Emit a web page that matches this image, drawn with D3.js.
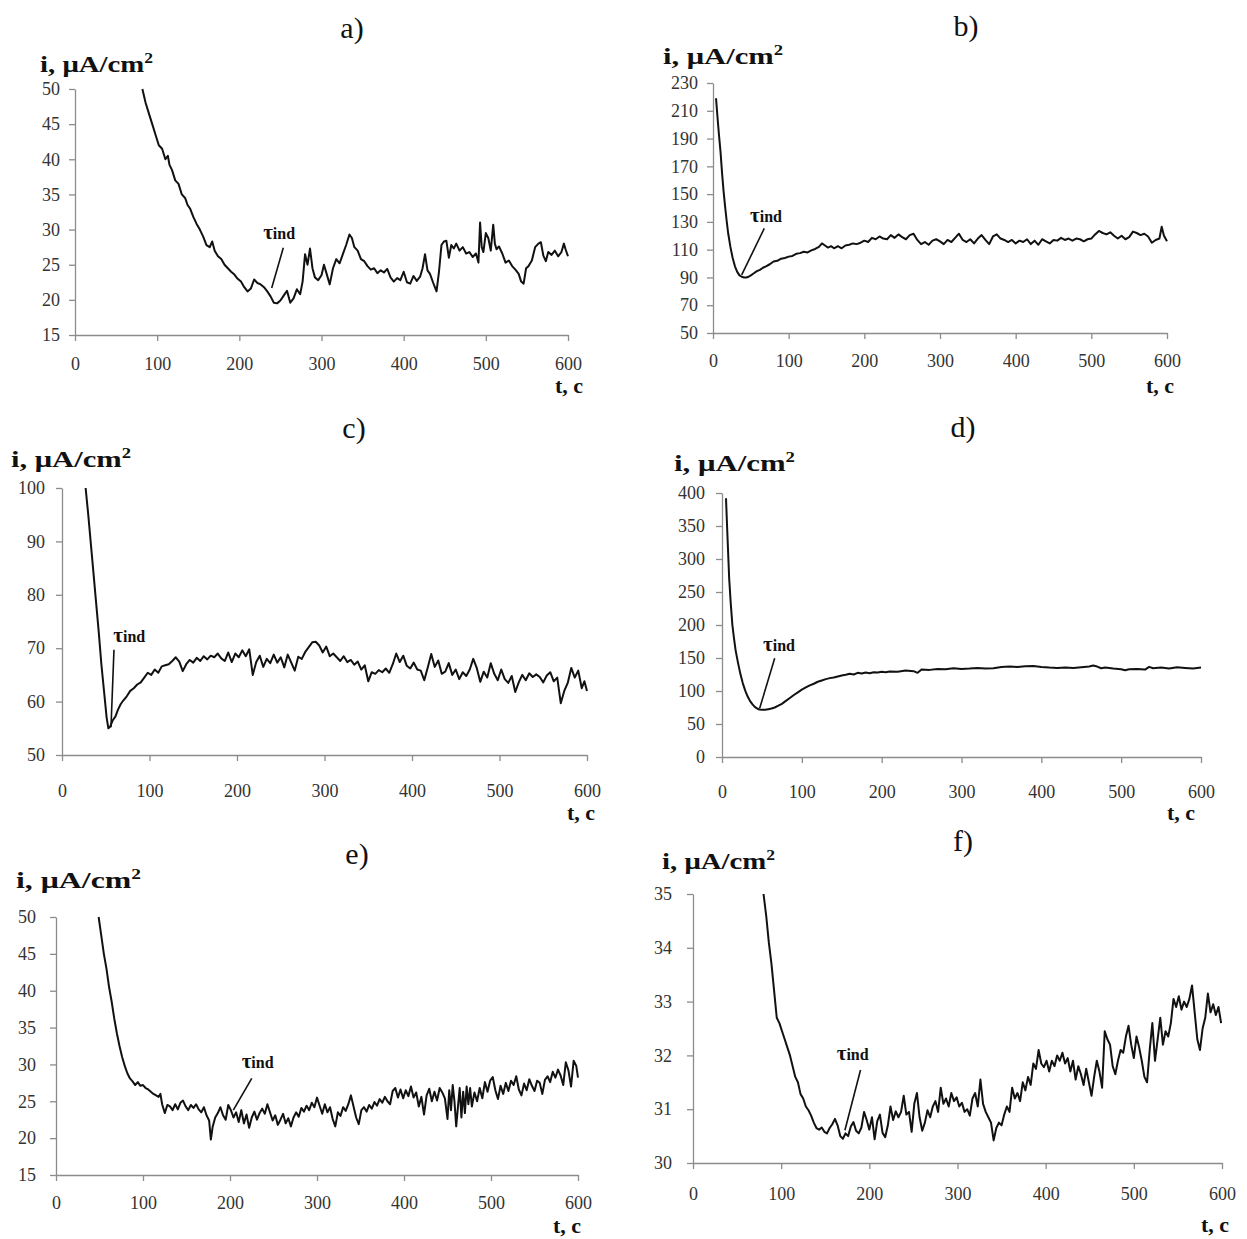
<!DOCTYPE html>
<html><head><meta charset="utf-8">
<script src="https://cdn.jsdelivr.net/npm/d3@7"></script>
<style>
body{margin:0;background:#fff}
svg{display:block}
text{font-family:"Liberation Serif","Times New Roman",serif}
</style>
</head><body>
<svg id="chart" width="1247" height="1239"></svg>
<script>
// ---------- data (t in s, i in µA/cm²) ----------
const xTicks = [0,100,200,300,400,500,600];
const panelLetters = ["a)","b)","c)","d)","e)","f)"];

const yTicksA = [15,20,25,30,35,40,45,50];
const yTicksB = [50,70,90,110,130,150,170,190,210,230];
const yTicksC = [50,60,70,80,90,100];
const yTicksD = [0,50,100,150,200,250,300,350,400];
const yTicksE = [15,20,25,30,35,40,45,50];
const yTicksF = [30,31,32,33,34,35];

const curveA = [[82,50],[86,48],[90,46.5],[94,45],[98,43.5],[102,42],[106,41.5],[110,40],[113,40.5],[115,39.2],[118,38.5],[122,37],[126,36.5],[130,35],[134,34.5],[137,33.5],[140,33],[144,31.8],[148,30.8],[152,30],[156,29],[160,27.8],[164,27.5],[167,28.3],[170,27],[174,26.2],[178,25.8],[182,25],[186,24.5],[190,24],[194,23.6],[198,23],[202,22.6],[206,21.8],[210,21.2],[214,21.6],[218,22.9],[222,22.4],[226,22.2],[230,21.8],[234,21.2],[238,20.5],[242,19.6],[246,19.5],[250,19.9],[254,20.6],[258,21.3],[262,19.6],[266,20.2],[270,21.5],[274,20.8],[277,22.6],[280,26.5],[283,25],[286,27.3],[289,24.5],[292,23.2],[296,22.8],[300,23.5],[303,25],[306,23.8],[310,22.2],[314,24.5],[318,25.8],[322,25.2],[326,26.5],[330,27.8],[334,29.3],[337,28.8],[340,27.5],[344,27],[348,25.8],[352,25.5],[356,24.8],[360,24.3],[364,24.5],[368,23.8],[372,24.2],[376,23.9],[380,24.4],[384,23.2],[388,22.6],[392,23.1],[396,22.8],[400,24],[404,22.5],[408,22.3],[412,23.4],[416,22.7],[420,23.3],[423,24.5],[426,26.5],[429,24.2],[432,23.7],[436,22.4],[440,21.2],[443,24],[446,27.8],[449,28.3],[452,28.4],[455,26],[458,27.8],[461,27.3],[464,28],[468,27],[472,27.5],[476,26.6],[480,26.8],[484,26.1],[488,26.6],[491,25.3],[493,31],[495,27.5],[497,26.8],[500,29.5],[503,28.8],[506,27],[509,30.7],[511,28],[513,27.2],[516,27.6],[520,26.6],[524,25.3],[528,25.6],[532,24.8],[536,24.3],[540,23.7],[543,22.6],[546,22.3],[549,24.5],[552,24.8],[556,25.6],[560,27.5],[564,28],[567,28.2],[570,26.3],[573,25.5],[576,26.8],[580,26.4],[584,27],[588,26.2],[592,26.8],[595,28],[597,27.2],[600,26.2]];

const curveB = [[4,219],[6,205],[8,192],[10,180],[12,165],[14,152],[16,141],[18,131],[20,122],[23,112],[26,104],[29,98],[32,94],[35,91.5],[38,90.5],[41,90],[44,90],[47,90.5],[50,91.5],[54,93],[58,94.5],[62,95.5],[66,97],[70,98],[75,99.5],[80,101.5],[85,102],[90,103.5],[95,104],[100,105],[105,105.5],[110,107],[115,107.5],[120,108.5],[125,108],[130,109.5],[135,110.5],[140,112],[144,114.5],[148,113],[152,111.5],[156,112.5],[160,111],[165,112.5],[170,111],[175,113],[180,113.5],[185,114.5],[190,114],[195,115],[200,116.5],[205,115.5],[210,118.5],[215,117.5],[220,119.5],[225,118],[230,117.5],[235,120.5],[240,118.5],[245,121],[250,119],[255,117.5],[260,120.5],[265,121.5],[270,117],[275,114],[280,115.5],[285,113.5],[290,116.5],[295,117.5],[300,116],[305,114],[310,117],[315,115.5],[320,118.5],[325,121.5],[330,117],[335,115.5],[340,117.5],[345,114.5],[350,118],[355,120.5],[360,117],[365,114],[370,119.5],[375,121],[380,118],[385,117],[390,115.5],[395,117],[400,114.5],[405,116.5],[410,115.5],[415,117.5],[420,114],[425,116.5],[430,113.5],[435,117.5],[440,116],[445,114.5],[450,117],[455,116.5],[460,118.5],[465,117],[470,118],[475,116.5],[480,118],[485,117.5],[490,116],[495,117.5],[500,118],[505,121],[510,123.5],[515,122],[520,121],[525,122.5],[530,120],[535,118],[540,120],[545,117.5],[550,119],[555,123],[560,122],[565,120.5],[570,121.5],[575,119.5],[580,115],[585,117],[590,118],[593,126.5],[596,120],[600,116]];

const curveC = [[27,100],[30,95],[33,89.5],[36,84],[39,78.5],[42,73],[45,67],[48,62],[51,57],[53,55],[55,55.3],[58,56.5],[61,57.2],[64,58.5],[67,59.5],[70,60.2],[74,61],[78,62],[82,62.5],[86,63.2],[90,63.6],[94,64.5],[98,65.4],[102,65],[106,66],[110,65.4],[114,66.6],[118,66.8],[122,67],[126,67.6],[130,68.3],[134,67.5],[138,65.7],[142,67],[146,67.8],[150,67.3],[154,68.2],[158,67.6],[162,68.5],[166,67.9],[170,68.6],[174,68.3],[178,69],[182,68.1],[186,67.6],[190,69.2],[194,67.4],[198,69],[202,68.3],[206,69.6],[210,68.5],[214,69.8],[218,65],[222,67.4],[226,68.6],[230,66.5],[234,68],[238,67.2],[242,68.8],[246,67.3],[250,68.3],[254,66.4],[258,68.8],[262,67.3],[266,65.8],[270,68.4],[274,68],[278,69.3],[282,70.2],[286,71.1],[290,71.2],[294,70.5],[298,69.2],[302,70.3],[306,68.5],[310,69],[314,68.3],[318,67.6],[322,68.5],[326,67.4],[330,67.8],[334,66.9],[338,67.5],[342,66],[346,66.8],[350,63.8],[354,65.5],[358,65.2],[362,65.9],[366,65.5],[370,66.2],[374,65.4],[378,67],[382,69],[386,67.4],[390,68.6],[394,66.7],[398,66.2],[402,67.3],[406,66],[410,65.8],[414,64],[418,66.4],[422,68.9],[426,66.5],[430,67.7],[434,65.2],[438,65.6],[442,67.2],[446,65],[450,66],[454,64.2],[458,65.5],[462,64.8],[466,66],[470,68],[474,66.3],[478,63.7],[482,65.6],[486,64.5],[490,67.2],[494,65.2],[498,64],[502,66],[506,64.2],[510,63.5],[514,64.8],[518,61.8],[522,63.6],[526,65],[530,64],[534,65.3],[538,64.6],[542,65.1],[546,64.6],[550,63.6],[554,64.9],[558,65.5],[562,63.8],[566,64.5],[570,59.7],[574,62],[578,63.5],[582,66.3],[586,64.5],[590,65.8],[594,62.5],[597,63.8],[600,62]];

const curveD = [[5,392],[7,330],[9,270],[11,232],[13,200],[15,180],[17,162],[20,143],[23,126],[26,112],[29,101],[32,92],[35,85],[38,80],[41,76],[44,73.5],[47,72],[50,71.5],[54,71.5],[58,72.5],[62,73.5],[66,75],[70,77.5],[75,80.5],[80,85],[85,89.5],[90,94],[95,98],[100,102],[105,105.5],[110,108.5],[115,111],[120,114],[125,116],[130,118],[135,119.5],[140,120.5],[145,122],[150,123.5],[155,124.5],[160,126],[165,125],[170,127.5],[175,126.5],[180,128],[185,127],[190,128.5],[195,128],[200,129],[205,128.5],[210,129.5],[220,129],[230,131],[240,130],[245,127.5],[250,132.5],[260,132],[270,133.5],[280,133],[290,134.5],[300,133.5],[310,134],[320,135],[330,134],[340,134.5],[350,136.5],[360,137],[370,136.5],[380,137.5],[390,138],[400,136.5],[410,135.5],[420,135],[430,135.5],[440,135],[450,136],[460,137],[465,138.5],[470,137],[475,134.5],[480,135.5],[490,134],[500,133],[505,131.5],[510,133],[520,133.5],[530,132.5],[535,136.5],[540,134.5],[550,135.5],[560,134],[570,136],[580,135],[590,134],[600,135.5]];

const curveE = [[49,50],[52,47.5],[55,45],[58,43],[61,40.5],[64,38.5],[67,36.2],[70,34.2],[73,32.5],[76,31],[79,29.8],[82,28.8],[85,28.1],[88,27.7],[91,27.2],[94,27.6],[97,27.1],[100,27.2],[103,26.8],[106,26.6],[109,26.3],[112,26],[115,25.8],[118,25.6],[120,26],[122,24.6],[125,23.4],[128,24.5],[131,24.3],[134,23.8],[137,24.6],[140,23.9],[143,24.8],[146,25.1],[149,24.3],[152,23.8],[155,24.5],[158,24.1],[161,24.6],[164,23.9],[167,23.5],[170,24.2],[173,23.1],[176,22.4],[178,19.8],[180,21.5],[183,22.8],[186,23.4],[189,24.2],[192,23.1],[195,22.5],[198,24.5],[201,23.8],[204,22.8],[207,23.5],[210,22.2],[213,23.8],[216,22],[219,23.2],[222,21.4],[225,22.8],[228,23.6],[231,22.5],[234,23.4],[237,24],[240,23.3],[243,24.6],[246,23.5],[249,22.4],[252,23.1],[255,21.8],[258,22.5],[261,23.3],[264,22],[267,22.7],[270,21.6],[273,22.8],[276,23.5],[279,22.9],[282,24.1],[285,23.6],[288,24.4],[291,23.8],[294,24.8],[297,24.2],[300,25.5],[303,24.4],[306,23.3],[309,24.6],[312,23.5],[315,24.2],[318,22.6],[321,21.6],[324,23.5],[327,23],[330,24.2],[333,23.7],[336,24.6],[339,25.8],[342,24.3],[345,22.8],[348,21.9],[351,23.8],[354,24.2],[357,23.6],[360,24.5],[363,24],[366,24.9],[369,24.4],[372,25.3],[375,24.8],[378,25.6],[381,25],[384,24.6],[387,26.4],[390,26.8],[393,25.5],[396,26.6],[399,25.4],[402,26.5],[405,25.7],[408,27],[411,25.5],[414,26.2],[417,24.3],[420,25.6],[423,23.2],[426,25.8],[429,26.7],[432,25],[435,26.3],[438,25.1],[441,26.8],[444,26.2],[447,25.4],[450,22.6],[452,26.5],[454,23.8],[456,27.2],[458,25],[460,21.6],[462,24.2],[464,26.8],[466,22.8],[468,26.3],[470,23.4],[472,27],[474,24.6],[476,26.8],[478,24.3],[481,26.2],[484,25],[487,26.8],[490,25.4],[493,27.6],[496,26.3],[499,27.8],[502,28.3],[505,26.5],[508,25.3],[511,27.1],[514,26],[517,27.5],[520,26.4],[523,27.8],[526,27.2],[529,28.4],[532,26.6],[535,25.8],[538,27.4],[541,26.5],[544,28],[547,27.1],[550,26.4],[553,27.8],[556,27.5],[559,26],[562,27.9],[565,28.4],[568,27.6],[571,29],[574,28.2],[577,29.3],[580,28.5],[583,27.2],[586,30.3],[589,29.2],[592,27],[595,30.5],[598,29.8],[600,28.2]];

const curveF = [[80,35],[83,34.6],[86,34.1],[89,33.7],[92,33.2],[95,32.7],[98,32.6],[101,32.45],[104,32.3],[107,32.15],[110,32],[113,31.8],[116,31.6],[119,31.5],[122,31.28],[125,31.2],[128,31.05],[131,30.98],[134,30.88],[137,30.75],[140,30.65],[143,30.62],[146,30.66],[149,30.58],[152,30.55],[155,30.65],[158,30.72],[161,30.82],[164,30.7],[167,30.5],[170,30.45],[173,30.55],[176,30.5],[179,30.68],[182,30.76],[185,30.6],[188,30.55],[191,30.66],[194,30.95],[197,30.8],[200,30.62],[203,30.85],[206,30.44],[209,30.78],[212,30.9],[215,30.56],[218,30.48],[221,30.7],[224,31.05],[227,30.8],[230,30.96],[233,30.85],[236,30.95],[239,31.25],[242,30.9],[245,30.95],[248,30.58],[251,31.1],[254,31.3],[257,30.85],[260,30.6],[263,30.75],[266,30.98],[269,30.85],[272,31.05],[275,31.15],[278,30.95],[281,31.4],[284,31.1],[287,31.2],[290,31.05],[293,31.3],[296,31.15],[299,31.22],[302,31.05],[305,31.12],[308,30.95],[311,31],[314,30.88],[317,31.2],[320,31.3],[323,31.05],[326,31.55],[329,31.1],[332,30.95],[335,30.85],[338,30.75],[341,30.42],[344,30.65],[347,30.75],[350,30.7],[353,30.9],[356,31.05],[359,30.95],[362,31.4],[365,31.2],[368,31.3],[371,31.15],[374,31.5],[377,31.35],[380,31.6],[383,31.45],[386,31.85],[389,31.75],[392,32.1],[395,31.85],[398,31.78],[401,31.9],[404,31.7],[407,31.9],[410,31.8],[413,32],[416,31.9],[419,32.05],[422,31.85],[425,31.95],[428,31.7],[431,31.9],[434,31.55],[437,31.8],[440,31.65],[443,31.45],[446,31.75],[449,31.5],[452,31.25],[455,31.6],[458,31.9],[461,31.7],[464,31.4],[467,32.45],[470,32.3],[473,32.2],[476,31.8],[479,31.65],[482,31.9],[485,32.1],[488,32.05],[491,32.35],[494,32.55],[497,32.2],[500,31.95],[503,32.35],[506,32.15],[509,31.9],[512,31.6],[515,31.5],[518,32.1],[521,32.6],[524,31.9],[527,32.3],[530,32.7],[533,32.2],[536,32.45],[539,32.35],[542,32.6],[545,33.05],[548,32.9],[551,33.1],[554,32.85],[557,33],[560,32.9],[563,33.05],[566,33.3],[569,32.8],[572,32.3],[575,32.1],[578,32.5],[581,32.7],[584,33.15],[587,32.8],[590,32.95],[593,32.75],[596,32.9],[599,32.6]];

// τind annotations: label anchor [t, i] and leader line [[t1,i1],[t2,i2]]
const tauLabels = [[229,28.6],[49,130],[58.6,71.2],[51.4,160.6],[213.4,29.5],[163,31.91]];
const tauLines = [
  [[253.5,27.4],[239.4,21.7]],
  [[67.8,125.4],[37.9,91.8]],
  [[59.4,69.7],[56,55.2]],
  [[66,149.5],[47.2,73.8]],
  [[225,28.1],[203.8,23.8]],
  [[190,31.73],[172.3,30.61]]
];

// ---------- layout ----------
const layouts = [
  {x0:75, x1:568, yT:89, yB:335, title:[352,38], ylab:[40,72,113], tc:[583,393,39], xDy:35, gap:15},
  {x0:713,x1:1167,yT:83, yB:333, title:[966,36], ylab:[663,64,120], tc:[1174,393,38], xDy:34, gap:15},
  {x0:62, x1:587, yT:488,yB:755, title:[354,438], ylab:[11,467,120], tc:[595,820,37], xDy:42, gap:17},
  {x0:722,x1:1201,yT:493,yB:757, title:[963,437], ylab:[674,471,121], tc:[1195,820,37], xDy:41, gap:17},
  {x0:56, x1:578, yT:917,yB:1175,title:[357,864], ylab:[16,888,125], tc:[581,1233,37], xDy:34, gap:20},
  {x0:693,x1:1222,yT:894,yB:1163,title:[963,851], ylab:[662,869,113], tc:[1229,1232,40], xDy:37, gap:21}
];

const panels = [
  {curve:curveA, yTicks:yTicksA},
  {curve:curveB, yTicks:yTicksB},
  {curve:curveC, yTicks:yTicksC},
  {curve:curveD, yTicks:yTicksD},
  {curve:curveE, yTicks:yTicksE},
  {curve:curveF, yTicks:yTicksF}
];

const svg = d3.select("#chart");
const axisColor = "#8c8c8c";
const labelColor = "#333";

panels.forEach((p, k) => {
  const L = layouts[k];
  const x = d3.scaleLinear().domain([0,600]).range([L.x0, L.x1]);
  const y = d3.scaleLinear().domain(d3.extent(p.yTicks)).range([L.yB, L.yT]);
  const g = svg.append("g");

  // axes
  const ya = g.append("g").attr("transform", `translate(${L.x0},0)`)
    .call(d3.axisLeft(y).tickValues(p.yTicks).tickFormat(d3.format("d"))
      .tickSize(6).tickSizeOuter(0).tickPadding(L.gap - 6));
  const xa = g.append("g").attr("transform", `translate(0,${L.yB})`)
    .call(d3.axisBottom(x).tickValues(xTicks).tickFormat(d3.format("d"))
      .tickSize(6).tickSizeOuter(0));
  [ya, xa].forEach(a => {
    a.select(".domain").attr("stroke", axisColor).attr("stroke-width", 1.3);
    a.selectAll(".tick line").attr("stroke", axisColor).attr("stroke-width", 1.3);
    a.selectAll(".tick text").attr("fill", labelColor)
      .style("font-family", '"Liberation Serif","Times New Roman",serif')
      .style("font-size", "18px");
  });
  xa.selectAll(".tick text").attr("y", L.xDy).attr("dy", 0);

  // curve
  const line = d3.line().x(d => x(d[0])).y(d => y(d[1])).curve(d3.curveLinear);
  g.append("path").datum(p.curve).attr("d", line)
    .attr("fill", "none").attr("stroke", "#111").attr("stroke-width", 2)
    .attr("stroke-linejoin", "round");

  // τind annotation
  const tl = tauLines[k];
  g.append("line")
    .attr("x1", x(tl[0][0])).attr("y1", y(tl[0][1]))
    .attr("x2", x(tl[1][0])).attr("y2", y(tl[1][1]))
    .attr("stroke", "#111").attr("stroke-width", 1.6);
  const lab = tauLabels[k];
  const tt = g.append("text").attr("x", x(lab[0])).attr("y", y(lab[1]))
    .attr("font-weight", "bold").attr("fill", "#111");
  tt.append("tspan").text("τ").attr("font-size", 21);
  tt.append("tspan").text("ind").attr("font-size", 16);

  // panel letter
  svg.append("text").attr("x", L.title[0]).attr("y", L.title[1])
    .attr("text-anchor", "middle").attr("font-size", 30).attr("fill", "#111")
    .text(panelLetters[k]);

  // y-axis label
  const yl = svg.append("text").attr("x", L.ylab[0]).attr("y", L.ylab[1])
    .attr("font-weight", "bold").attr("font-size", 23).attr("fill", "#111")
    .attr("textLength", L.ylab[2]).attr("lengthAdjust", "spacingAndGlyphs");
  yl.append("tspan").text("i, μA/cm");
  yl.append("tspan").text("2").attr("font-size", 14).attr("dy", -9);

  // x-axis label
  svg.append("text").attr("x", L.tc[0]).attr("y", L.tc[1])
    .attr("text-anchor", "end").attr("font-weight", "bold").attr("font-size", 22)
    .attr("fill", "#111").text("t, c");
});
</script>
</body></html>
